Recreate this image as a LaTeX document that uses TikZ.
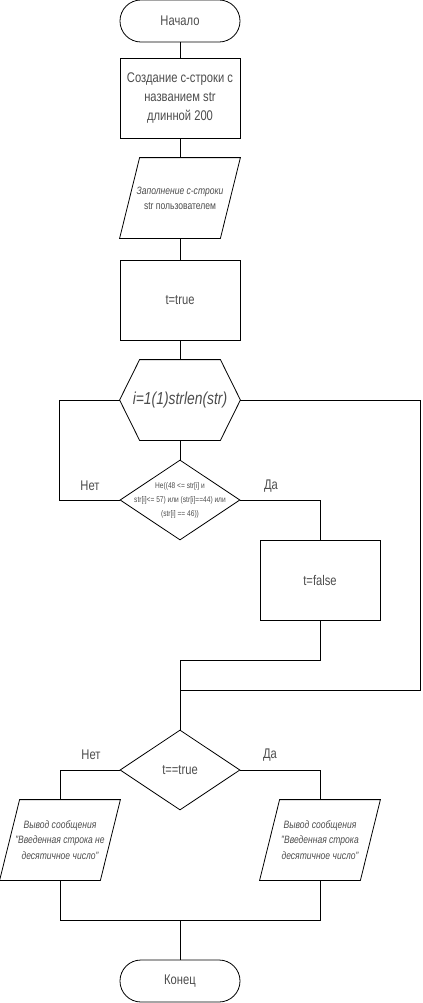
\documentclass[tikz,border=0pt]{standalone}
\usepackage{fontspec}
\setmainfont{Liberation Sans}[FakeStretch=0.8]
\usetikzlibrary{shapes.geometric}

\begin{document}
\begin{tikzpicture}[x=0.75pt,y=-0.75pt,line width=0.6pt,
	every node/.style={text=black!70},
	term/.style={draw=black,rectangle,rounded corners=15.7pt,minimum width=90pt,minimum height=31.5pt,inner sep=0pt,font=\fontsize{10.5}{14}\selectfont},
	proc/.style={draw=black,rectangle,minimum width=90pt,minimum height=60pt,inner sep=0pt,align=center,font=\fontsize{10.5}{14}\selectfont},
	io/.style={rectangle,minimum width=90pt,minimum height=60pt,inner sep=0pt,align=center,font=\itshape\fontsize{8}{11.5}\selectfont},
	cycle/.style={rectangle,minimum width=90pt,minimum height=60pt,inner sep=0pt,font=\itshape\fontsize{13}{15}\selectfont},
	cond/.style={draw=black,diamond,minimum width=90pt,minimum height=60pt,inner sep=0pt},
	lbl/.style={font=\fontsize{10.5}{14}\selectfont}]
	\useasboundingbox (0,0) rectangle (423,1003);

	% blocks
	\node[term] (start) at (180,21) {Начало};
	\node[proc] (b1) at (180,98) {Создание с-строки с\\названием str\\длинной 200};
	\node[io] (p1) at (180,198) {Заполнение с-строки\\\upshape str пользователем};
	\node[proc] (b2) at (180,300) {t=true};
	\node[cycle] (h) at (180,400) {i=1(1)strlen(str)};
	\node[cond] (d1) at (180,500) {};
	\node[align=center,font=\fontsize{6.2}{10.5}\selectfont] (d1t) at (d1) {Не((48 <= str[i] и\\str[i]<= 57) или (str[i]==44) или\\(str[i] == 46))};
	\node[proc] (tf) at (320,580) {t=false};
	\coordinate (m2) at (180,690);
	\node[cond,font=\fontsize{10.5}{14}\selectfont] (d2) at (180,770) {t==true};
	\node[io] (o1) at (60,840) {Вывод сообщения\\"Введенная строка не\\десятичное число"};
	\node[io] (o2) at (320,840) {Вывод сообщения\\"Введенная строка\\десятичное число"};
	\coordinate (j) at (180,920);
	\node[term] (fin) at (180,981) {Конец};

	% outlines of data blocks and loop
	\foreach \n in {p1,o1,o2}
		\draw ([xshift=15pt]\n.north west) -- (\n.north east) -- ([xshift=-15pt]\n.south east) -- (\n.south west) -- cycle;
	\draw ([xshift=15pt]h.north west) -- ([xshift=-15pt]h.north east) -- (h.east) -- ([xshift=-15pt]h.south east) -- ([xshift=15pt]h.south west) -- (h.west) -- cycle;

	% labels
	\node[lbl] (n1) at (90,486) {Нет};
	\node[lbl] (y1) at (271,486) {Да};
	\node[lbl] (n2) at (91,755) {Нет};
	\node[lbl] (y2) at (270,755) {Да};

	% lines
	\draw (start) -- (b1) -- (p1) -- (b2) -- (h) -- (d1);
	\draw (h.west) -- ++(-60,0) |- (d1.west);
	\draw (d1.east) -| (tf);
	\draw (tf) -- ++(0,80) -| (d2);
	\draw (h.east) -- ++(180,0) |- (m2);
	\draw (d2.west) -| (o1);
	\draw (d2.east) -| (o2);
	\draw (o1) |- (j) -- (fin);
	\draw (o2) |- (j);
\end{tikzpicture}
\end{document}
